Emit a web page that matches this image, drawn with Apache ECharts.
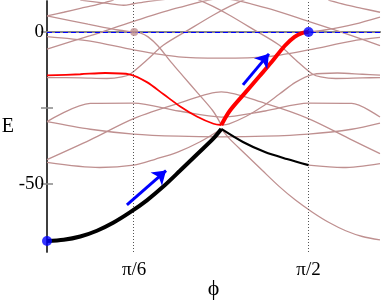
<!DOCTYPE html>
<html>
<head>
<meta charset="utf-8">
<script src="https://cdn.jsdelivr.net/npm/echarts@6/dist/echarts.min.js"></script>
<style>
html,body{margin:0;padding:0;background:#fff;}
#chart{width:382px;height:302px;}
</style>
</head>
<body>
<div id="chart"></div>
<script>
const PI = Math.PI;
// axis ticks
const xTickValues = [PI / 6, PI / 2];
const xTickLabels = ['π/6', 'π/2'];
const yTickValues = [0, -25, -50];
const yLabelValues = [0, -50];

// highlighted path: black (thick up to π/3, thin after)
const blackThickX = [0, 0.1, 0.2, 0.3, 0.4, 0.5, 0.6, 0.7, 0.8, 0.9, 1.0, 1.047];
const blackThickE = [-68.8, -68.4, -67.3, -65.4, -62.7, -59.3, -55.4, -50.8, -45.6, -40.3, -35.0, -31.9];
const blackThinX = [1.047, 1.177, 1.309, 1.441, 1.571];
const blackThinE = [-31.9, -36.2, -39.5, -41.8, -43.8];
const blackTailX = [1.571, 1.778, 2.0];
const blackTailE = [-43.8, -44.6, -43.3];

// red band (thin up to π/3, thick up to π/2)
const redThinX = [0, 0.2, 0.35, 0.5, 0.6, 0.7, 0.8, 0.9, 1.0, 1.047];
const redThinE = [-14.3, -13.9, -13.5, -14, -16.5, -20.5, -24.5, -27.8, -30.2, -30.6];
const redThickX = [1.047, 1.097, 1.187, 1.277, 1.349, 1.427, 1.487, 1.535, 1.571];
const redThickE = [-30.6, -26, -20.2, -14.5, -9.9, -4.6, -1.6, -0.3, 0];
const redTailX = [1.571, 1.668, 1.848, 2.0];
const redTailE = [0, 0.66, 2.6, 4.9];

// other bands (brown)
const dotBandLX = [0, 0.246, 0.426, 0.525, 0.559, 0.607, 0.667, 0.745, 0.817, 0.907, 0.997, 1.047];
const dotBandLE = [5.3, 2.6, 0.66, 0, -0.3, -1.6, -4.6, -9.9, -14.5, -20.2, -26, -30.6];
const dotBandRX = [1.047, 1.094, 1.194, 1.294, 1.394, 1.494, 1.594, 1.744, 1.894, 2.0];
const dotBandRE = [-30.6, -30.2, -27.8, -24.5, -20.5, -16.5, -14, -13.5, -13.9, -14.2];
const lensLX = [0, 0.316, 0.52, 0.653, 0.785, 0.917, 1.047];
const lensLE = [-42.9, -44.6, -43.8, -41.8, -39.5, -36.2, -31.9];
const fallRX = [1.047, 1.094, 1.194, 1.294, 1.394, 1.494, 1.594, 1.694, 1.794, 1.894, 2.0];
const fallRE = [-31.9, -35.0, -40.3, -45.6, -50.8, -55.4, -59.3, -62.7, -65.4, -67.3, -68.4];

const gridPhi = [0, 0.26, 0.52, 0.79, 1.047, 1.31, 1.57, 1.83, 2.0];
const archE = [-42, -35.5, -28.5, -23.5, -19.7, -23.5, -28.5, -35.5, -40];
const waveE = [-29.5, -23.5, -23.4, -26, -28, -26, -23.4, -23.5, -28];
const flatE = [-29.5, -32, -33.6, -34.3, -34.5, -34.3, -33.6, -32, -30];
const topArchE = [-5.6, -1.2, 3.5, 8, 11, 8, 3.5, -1.2, -4.5];
const topDipE = [-1.5, -3, -5.9, -8.2, -8.6, -8.2, -5.9, -3, -1.8];

const riseLX = [0, 0.2, 0.36, 0.45, 0.5, 0.6, 0.7, 0.85, 1.0, 1.1, 1.2];
const riseLE = [-15, -15.1, -15.3, -14.8, -13.8, -9.2, -4.3, 0.7, 5.6, 8.5, 11];
const riseRX = [0.894, 0.994, 1.094, 1.244, 1.394, 1.494, 1.594, 1.644, 1.734, 1.894, 2.0];
const riseRE = [11, 8.5, 5.6, 0.7, -4.3, -9.2, -13.8, -14.8, -15.3, -15.1, -15];
const upLX = [0, 0.1, 0.2, 0.3, 0.4];
const upLE = [5.3, 6.5, 7.8, 9, 10.5];
const upRX = [1.69, 1.79, 1.89, 2.0];
const upRE = [10.5, 9, 7.8, 6.5];
const topUX = [0.2, 0.35, 0.46, 0.52, 0.6, 0.75];
const topUE = [10.5, 9.5, 8.8, 9.3, 10, 11];

// markers
const blueDots = [[0, -68.8], [PI / 2, 0]];
const brownDots = [[PI / 6, 0]];
const arrows = [
  [[0.48, -56.9], [0.715, -45.6]],
  [[1.177, -17.4], [1.333, -7.2]]
];

const zip = (xs, ys) => xs.map((x, i) => [x, ys[i]]);
const BROWN = '#bf9090';

function curve(xs, ys, color, width, z) {
  return {
    type: 'line', data: zip(xs, ys), smooth: 0.3, showSymbol: false, symbol: 'none',
    lineStyle: { color: color, width: width }, z: z, silent: true, clip: true
  };
}

const series = [];
const brownSets = [
  [dotBandLX, dotBandLE], [dotBandRX, dotBandRE], [lensLX, lensLE], [fallRX, fallRE],
  [gridPhi, archE], [gridPhi, waveE], [gridPhi, flatE], [gridPhi, topArchE], [gridPhi, topDipE],
  [riseLX, riseLE], [riseRX, riseRE], [upLX, upLE], [upRX, upRE], [topUX, topUE],
  [blackTailX, blackTailE], [redTailX, redTailE]
];
brownSets.forEach(s => series.push(curve(s[0], s[1], BROWN, 1.3, 2)));

// reference lines
series.push({
  type: 'line', data: [], z: 1, silent: true,
  markLine: {
    silent: true, symbol: ['none', 'none'], label: { show: false },
    lineStyle: { type: [1, 2], color: '#555', width: 1 },
    data: [{ xAxis: xTickValues[0] }, { xAxis: xTickValues[1] }]
  }
});
series.push({
  type: 'line', data: [], z: 3, silent: true,
  markLine: {
    silent: true, symbol: ['none', 'none'], label: { show: false },
    lineStyle: { type: [5, 3], color: '#0000ff', width: 1, opacity: 1 },
    data: [{ yAxis: 0 }]
  }
});

series.push(curve(redThinX, redThinE, '#ff0000', 1.8, 5));
series.push(curve(blackThinX, blackThinE, '#000', 2.2, 5));
series.push(curve(redThickX, redThickE, '#ff0000', 4, 6));
series.push(curve(blackThickX, blackThickE, '#000', 4, 6));

series.push({
  type: 'lines', coordinateSystem: 'cartesian2d', z: 8, silent: true,
  symbol: ['none', 'arrow'], symbolSize: 13,
  lineStyle: { color: '#0000ff', width: 3, opacity: 1 },
  data: arrows.map(a => ({ coords: a }))
});
series.push({
  type: 'scatter', data: brownDots, symbolSize: 8, z: 9, silent: true,
  itemStyle: { color: '#bf9090' }
});
series.push({
  type: 'scatter', data: blueDots, symbolSize: 10, z: 9, silent: true,
  itemStyle: { color: '#0000ff' }
});

const chart = echarts.init(document.getElementById('chart'), null, { renderer: 'canvas' });
const serif = 'Liberation Serif';
chart.setOption({
  animation: false,
  backgroundColor: '#fff',
  grid: { left: 47, right: 2, top: 1, bottom: 50, show: false, containLabel: false, outerBoundsMode: 'none' },
  xAxis: [{
    type: 'value', min: 0, max: 2, position: 'bottom',
    axisLine: { show: true, lineStyle: { color: '#333', width: 1.5 } },
    axisTick: { show: false },
    splitLine: { show: false },
    axisLabel: {
      customValues: xTickValues, margin: 9,
      fontFamily: serif, fontSize: 19, color: '#000',
      formatter: v => { const i = xTickValues.findIndex(t => Math.abs(t - v) < 1e-6); return i >= 0 ? xTickLabels[i] : ''; }
    },
    name: 'ϕ', nameLocation: 'middle', nameGap: 37, nameMoveOverlap: false,
    nameTextStyle: { fontFamily: serif, fontSize: 22, color: '#000', verticalAlign: 'middle' }
  }, {
    type: 'value', min: 0, max: 2, position: 'top',
    axisLine: { show: true, lineStyle: { color: '#888', width: 2 } },
    axisTick: { show: false }, axisLabel: { show: false }, splitLine: { show: false }
  }],
  yAxis: [{
    type: 'value', min: -72.4, max: 10.2, position: 'left',
    axisLine: { show: true, lineStyle: { color: '#333', width: 1.5 } },
    axisTick: { show: true, inside: true, length: 6, customValues: yTickValues, lineStyle: { color: '#888', width: 1.5 } },
    splitLine: { show: false },
    axisLabel: { customValues: yLabelValues, margin: 3, fontFamily: serif, fontSize: 19, color: '#000', formatter: v => String(v) },
    name: 'E', nameLocation: 'middle', nameGap: 33, nameRotate: 0, nameMoveOverlap: false,
    nameTextStyle: { fontFamily: serif, fontSize: 20, color: '#000' }
  }, {
    type: 'value', min: -72.4, max: 10.2, position: 'right',
    axisLine: { show: true, lineStyle: { color: '#333', width: 1.5 } },
    axisTick: { show: true, inside: true, length: 6, customValues: yTickValues, lineStyle: { color: '#888', width: 1.5 } },
    splitLine: { show: false }, axisLabel: { show: false }
  }],
  series: series
});
</script>
</body>
</html>
